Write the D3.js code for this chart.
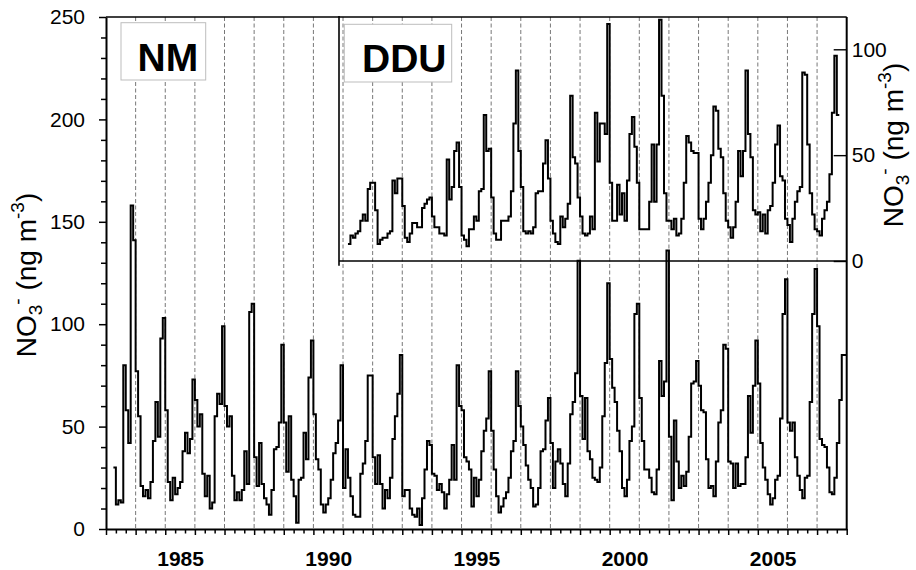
<!doctype html>
<html>
<head>
<meta charset="utf-8"/>
<title>NO3- NM / DDU</title>
<script src="https://d3js.org/d3.v7.min.js"></script>
<style>
body { margin:0; background:#fff; }
text { font-family: "Liberation Sans", Arial, sans-serif; }
</style>
</head>
<body>
<script>
// monthly NO3- at NM (ng m-3), first value = April 1983
var nmStart = 1983 + 3/12;
var nmValues = [
  30, 12, 14, 13, 80, 58, 42, 158, 141,                 // 1983
  77, 55, 21, 16, 19, 15, 23, 43, 62, 45, 93, 103,      // 1984
  58, 23, 14, 25, 17, 20, 23, 38, 47, 37, 44, 73,       // 1985
  63, 50, 56, 27, 16, 26, 10, 13, 55, 66, 61, 99,       // 1986
  60, 50, 55, 26, 14, 18, 14, 19, 38, 22, 106, 110,     // 1987
  35, 21, 42, 22, 15, 12, 7, 19, 39, 40, 52, 90,        // 1988
  52, 28, 55, 24, 16, 3, 24, 25, 47, 34, 74, 92,        // 1989
  56, 34, 29, 12, 8, 12, 15, 24, 37, 42, 53, 80,        // 1990
  20, 39, 25, 16, 7, 6, 6, 27, 32, 43, 75, 75,          // 1991
  35, 22, 36, 22, 10, 19, 15, 25, 44, 55, 66, 85,       // 1992
  16, 19, 19, 10, 7, 6, 10, 2, 15, 29, 43, 41,          // 1993
  27, 26, 19, 22, 18, 10, 17, 24, 41, 24, 80, 60,       // 1994
  58, 35, 33, 29, 11, 25, 16, 24, 38, 48, 54, 77,       // 1995
  48, 29, 16, 8, 11, 15, 18, 25, 38, 43, 77, 60,        // 1996
  50, 41, 31, 24, 20, 11, 12, 20, 38, 39, 53, 64,       // 1997
  42, 20, 33, 39, 32, 22, 16, 32, 56, 62, 76, 131,      // 1998
  65, 44, 64, 38, 34, 25, 24, 23, 30, 55, 81, 120,      // 1999
  83, 69, 62, 48, 38, 20, 16, 24, 43, 50, 105, 110,     // 2000
  64, 43, 29, 29, 25, 18, 17, 29, 82, 65, 72, 136,      // 2001
  45, 14, 53, 33, 20, 26, 21, 28, 45, 71, 72, 82,       // 2002
  70, 58, 57, 34, 20, 21, 16, 33, 52, 58, 90, 88,       // 2003
  33, 32, 20, 32, 21, 22, 22, 35, 65, 47, 70, 92,       // 2004
  71, 42, 30, 24, 17, 12, 15, 24, 26, 54, 105, 122,     // 2005
  52, 48, 52, 35, 26, 19, 15, 25, 26, 62, 105, 127,     // 2006
  99, 44, 41, 40, 30, 18, 17, 25, 42, 63, 85, 85        // 2007
];

// monthly NO3- at DDU (ng m-3), first value = March 1991
var dduStart = 1991 + 2/12;
var dduValues = [
  8, 12, 11, 13, 14, 19, 22, 19, 34, 37,                // 1991
  37, 24, 8, 10, 11, 11, 13, 14, 38, 32, 39, 39,        // 1992
  26, 11, 9, 13, 18, 18, 16, 16, 25, 27, 29, 30,        // 1993
  21, 16, 16, 13, 13, 12, 48, 29, 35, 52, 56, 35,       // 1994
  12, 10, 7, 15, 15, 21, 19, 33, 34, 69, 52, 53,        // 1995
  30, 13, 10, 10, 19, 19, 19, 21, 33, 65, 90, 52,       // 1996
  35, 14, 13, 14, 13, 16, 32, 33, 33, 46, 57, 39,       // 1997
  19, 13, 9, 8, 21, 16, 20, 27, 78, 49, 46, 30,         // 1998
  21, 13, 12, 13, 21, 15, 70, 47, 65, 65, 60, 112,      // 1999
  37, 19, 19, 36, 22, 32, 19, 38, 60, 68, 54, 37,       // 2000
  15, 15, 15, 15, 28, 55, 28, 55, 114, 78, 32, 19,      // 2001
  19, 15, 20, 12, 13, 20, 37, 59, 56, 52, 51, 51,       // 2002
  20, 15, 20, 28, 37, 50, 73, 71, 53, 49, 32, 19,       // 2003
  16, 11, 16, 28, 52, 40, 52, 90, 60, 49, 24, 22,       // 2004
  23, 14, 22, 13, 24, 26, 37, 55, 64, 40, 38, 20,       // 2005
  17, 9, 20, 28, 33, 35, 89, 88, 55, 32, 22, 15,        // 2006
  14, 12, 20, 24, 28, 41, 70, 97, 69                    // 2007
];

var yearLabels = [1985, 1990, 1995, 2000, 2005];
var dashedYears = d3.range(1984, 2008);
var nmTicks = [0, 50, 100, 150, 200, 250];
var dduTicks = [0, 50, 100];

var svg = d3.select("body").append("svg")
  .attr("width", 916).attr("height", 570);

var pLeft = 106, pRight = 846.7, pTop = 17, pBottom = 529;

var x = d3.scaleLinear().domain([1983, 2008]).range([pLeft, pRight]);
var yNM = d3.scaleLinear().domain([0, 250]).range([pBottom, pTop]);
var yDDU = d3.scaleLinear().domain([0, 100]).range([261, 49.3]);

// dashed year lines
svg.append("g").selectAll("line")
  .data(dashedYears).enter().append("line")
  .attr("x1", function(d){ return x(d); })
  .attr("x2", function(d){ return x(d); })
  .attr("y1", pTop).attr("y2", pBottom)
  .attr("stroke", "#777")
  .attr("stroke-width", 1)
  .attr("stroke-dasharray", "4,2.5");

// label boxes
function labelBox(bx, by, bw, bh, tx, ty, txt) {
  svg.append("rect").attr("x", bx).attr("y", by).attr("width", bw).attr("height", bh)
    .attr("fill", "#fff").attr("stroke", "#bdbdbd").attr("stroke-width", 1);
  svg.append("text").attr("x", tx).attr("y", ty)
    .attr("font-size", 39).attr("font-weight", "bold").text(txt);
}
labelBox(121, 22.7, 84.7, 57.3, 137.5, 70.7, "NM");
labelBox(344.3, 24.3, 107.4, 57.7, 362, 71.7, "DDU");

// frame
svg.append("line").attr("x1", pLeft).attr("x2", pRight).attr("y1", pTop).attr("y2", pTop)
  .attr("stroke", "#000").attr("stroke-width", 1.6);
svg.append("line").attr("x1", pRight).attr("x2", pRight).attr("y1", pTop).attr("y2", pBottom)
  .attr("stroke", "#000").attr("stroke-width", 2);

// left axis
var minorY = d3.range(0, 251, 10).filter(function(d){ return d % 50 !== 0; });
var gyMinor = svg.append("g").attr("transform", "translate(" + pLeft + ",0)")
  .call(d3.axisLeft(yNM).tickValues(minorY).tickSize(5).tickSizeOuter(0).tickFormat(""));
gyMinor.select(".domain").remove();
var gy = svg.append("g").attr("transform", "translate(" + pLeft + ",0)")
  .call(d3.axisLeft(yNM).tickValues(nmTicks).tickSize(7).tickSizeOuter(0).tickPadding(14));
gy.select(".domain").attr("stroke-width", 2);
gy.selectAll(".tick line").attr("stroke-width", 1.5);
gyMinor.selectAll(".tick line").attr("stroke-width", 1.5);
gy.selectAll("text").attr("font-size", 21).attr("font-family", "Liberation Sans, Arial, sans-serif").attr("fill", "#000");

// bottom axis
var minorX = d3.range(0, 76).map(function(k){ return 1983 + k/3; });
var gx = svg.append("g").attr("transform", "translate(0," + pBottom + ")")
  .call(d3.axisBottom(x).tickValues(minorX).tickSizeOuter(0).tickFormat(""));
gx.selectAll(".tick line")
  .attr("y2", function(d, i){ return i % 3 === 0 ? 6 : 4.5; })
  .attr("stroke-width", 1.5);
gx.select(".domain").attr("stroke-width", 2);
var gxl = svg.append("g").attr("transform", "translate(0," + pBottom + ")")
  .call(d3.axisBottom(x).tickValues(yearLabels.map(function(d){ return d + 0.5; }))
    .tickSize(0).tickPadding(21.6).tickFormat(function(d){ return String(Math.floor(d)); }));
gxl.select(".domain").remove();
gxl.selectAll("text").attr("font-size", 21).attr("font-weight", "bold")
  .attr("font-family", "Liberation Sans, Arial, sans-serif").attr("fill", "#000");

// DDU inset axes
svg.append("line").attr("x1", 339).attr("x2", 339).attr("y1", 16).attr("y2", 265.7)
  .attr("stroke", "#000").attr("stroke-width", 1.6);
svg.append("line").attr("x1", 339).attr("x2", pRight).attr("y1", yDDU(0)).attr("y2", yDDU(0))
  .attr("stroke", "#000").attr("stroke-width", 1.4);
var gr = svg.append("g").attr("transform", "translate(" + pRight + ",0)")
  .call(d3.axisRight(yDDU).tickValues(dduTicks).tickSize(-13).tickSizeOuter(0).tickPadding(5));
gr.select(".domain").remove();
gr.selectAll(".tick line").attr("stroke-width", 1.4);
gr.selectAll("text").attr("font-size", 21).attr("font-family", "Liberation Sans, Arial, sans-serif").attr("fill", "#000");

// step lines
function stepPoints(start, vals) {
  var pts = vals.map(function(v, i){ return [start + i/12, v]; });
  pts.push([start + vals.length/12, vals[vals.length - 1]]);
  return pts;
}
var lineNM = d3.line().curve(d3.curveStepAfter)
  .x(function(d){ return x(d[0]); }).y(function(d){ return yNM(d[1]); });
var lineDDU = d3.line().curve(d3.curveStepAfter)
  .x(function(d){ return x(d[0]); }).y(function(d){ return yDDU(d[1]); });

svg.append("path").datum(stepPoints(nmStart, nmValues))
  .attr("d", lineNM).attr("fill", "none").attr("stroke", "#000").attr("stroke-width", 2);
svg.append("path").datum(stepPoints(dduStart, dduValues))
  .attr("d", lineDDU).attr("fill", "none").attr("stroke", "#000").attr("stroke-width", 2);

// axis titles
function axisTitle(tx, ty) {
  var t = svg.append("text").attr("transform", "translate(" + tx + "," + ty + ") rotate(-90)")
    .attr("text-anchor", "middle").attr("font-size", 28);
  t.append("tspan").text("NO");
  t.append("tspan").attr("font-size", 19).attr("dy", 6).text("3");
  t.append("tspan").attr("font-size", 19).attr("dy", -18).text("-");
  t.append("tspan").attr("dy", 12).text(" (ng m");
  t.append("tspan").attr("font-size", 19).attr("dy", -12).text("-3");
  t.append("tspan").attr("dy", 12).text(")");
}
axisTitle(36, 275);
axisTitle(903, 145);
</script>
</body>
</html>
